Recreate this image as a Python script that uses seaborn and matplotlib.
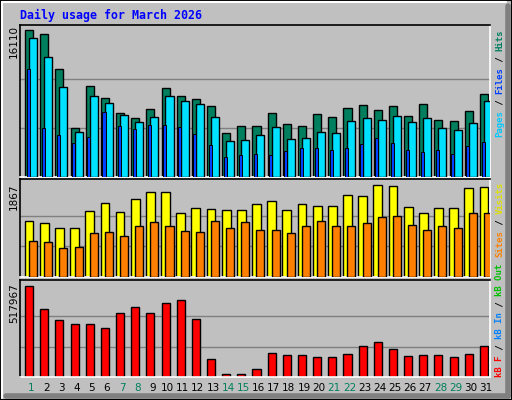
import numpy as np
import pandas as pd
import matplotlib
matplotlib.use("Agg")
import matplotlib.pyplot as plt
import seaborn as sns
from matplotlib.patches import Rectangle

days = list(range(1, 32))
hits = [16110,15640,11804,5338,9941,8626,6982,6433,7420,9722,8845,8516,7749,4790,5557,5557,
        6982,5776,5557,6872,6543,7530,7858,7310,7749,6653,7968,6214,6105,7201,9064]
files = [15202,13119,9831,4899,8845,8078,6762,5995,6543,8845,8297,7968,6543,3913,4022,4570,
         5447,4132,4242,4899,4790,6105,6433,6214,6653,5995,6433,5338,5118,5886,8297]
pages = [11804,5338,4570,3694,4351,7091,5557,5228,5666,5666,5447,4680,3474,2159,2378,2488,
         2378,2817,3146,3146,2926,3146,3584,4242,3694,2926,2707,2926,2488,3365,3803]
visits = [1134,1093,992,992,1338,1501,1317,1582,1725,1725,1297,1399,1378,1358,1358,1480,
          1541,1358,1480,1439,1439,1663,1643,1867,1847,1419,1297,1399,1399,1806,1826]
sites = [727,707,584,605,890,910,829,1032,1114,1032,930,910,1134,992,1114,951,
         951,890,1032,1134,1032,1032,1093,1215,1236,1053,951,1032,992,1297,1297]
kbytes = [517967,387050,324440,301670,301670,278900,364280,398430,364280,421200,438280,330130,
          102460,17080,17080,45540,136610,125220,125220,113840,113840,130910,176450,199220,
          159370,119530,125220,125220,113840,130910,176450]
weekend = {1,7,8,14,15,21,22,28,29}

W, H = 512, 400
BG = "#C0C0C0"
sns.set_style("white")
fig = plt.figure(figsize=(W/100, H/100), dpi=100)
fig.patch.set_facecolor(BG)
mono = "DejaVu Sans Mono"

def fx(x): return x / W
def fy(y): return 1 - y / H

fig.patches.append(Rectangle((0, 0), 1, 1, transform=fig.transFigure, fill=False, edgecolor="black", lw=1.5))
fig.add_artist(plt.Line2D([fx(2), fx(2)], [fy(398), fy(2)], color="white", lw=1.5, transform=fig.transFigure))
fig.add_artist(plt.Line2D([fx(2), fx(506)], [fy(2), fy(2)], color="white", lw=1.5, transform=fig.transFigure))
fig.add_artist(plt.Line2D([fx(508), fx(508)], [fy(6), fy(396)], color="#808080", lw=4, transform=fig.transFigure))
fig.add_artist(plt.Line2D([fx(6), fx(508)], [fy(396), fy(396)], color="#808080", lw=4, transform=fig.transFigure))

XL = (-0.73, 30.27)

def make_ax(top, bottom, vmax, barh):
    ax = fig.add_axes([fx(20), fy(bottom), fx(490) - fx(20), (bottom - top) / H])
    ax.set_facecolor(BG)
    ax.set_ylim(0, vmax * (bottom - top) / barh)
    for g in (vmax / 3, 2 * vmax / 3):
        ax.axhline(g, color="#808080", lw=1, zorder=0)
    for s in ("top", "left"):
        ax.spines[s].set_color("black")
    for s in ("right", "bottom"):
        ax.spines[s].set_color("white")
    for s in ax.spines.values():
        s.set_linewidth(1.2)
    return ax

def bars(ax, vals, off, w, color, lw=1.0, z=2):
    n0 = len(ax.patches)
    df = pd.DataFrame({"day": days, "y": vals})
    sns.barplot(data=df, x="day", y="y", order=days, width=w, color=color,
                edgecolor="black", linewidth=lw, saturation=1, ax=ax)
    for p in ax.patches[n0:]:
        p.set_x(p.get_x() + off)
        p.set_zorder(z)

def finish(ax):
    ax.set_xlim(*XL)
    ax.set_xticks([]); ax.set_yticks([])
    ax.set_xlabel(""); ax.set_ylabel("")

ax1 = make_ax(25, 177, max(hits), 147)
bars(ax1, hits, -0.13, 0.53, "#007F5F", z=2)
bars(ax1, files, 0.13, 0.53, "#00E0FF", z=3)
bars(ax1, pages, -0.19, 0.2, "#0040FF", 0.7, z=4)
finish(ax1)

ax2 = make_ax(179, 277, max(visits), 92)
bars(ax2, visits, -0.13, 0.58, "#FFFF00", z=2)
bars(ax2, sites, 0.13, 0.53, "#FF8000", z=3)
finish(ax2)

ax3 = make_ax(280, 377, max(kbytes), 91)
bars(ax3, kbytes, -0.13, 0.53, "#FF0000")
finish(ax3)

fig.text(fx(20), fy(15), "Daily usage for March 2026", color="#0000FF", family=mono,
         fontweight="bold", fontsize=8.4, va="center", ha="left")

for txt, ytop in (("16110", 25), ("1867", 184), ("517967", 283)):
    fig.text(fx(14), fy(ytop), txt, rotation=90, ha="center", va="top", fontsize=7.5, color="black")

for i, d in enumerate(days):
    x = 20 + (i - XL[0]) * (470 / 31)
    fig.text(fx(x), fy(388), str(d), ha="center", va="center", fontsize=7.5,
             color="#00805C" if d in weekend else "black")

CH = 5.4
def side(pieces, ybottom):
    y = ybottom
    for t, c in pieces:
        fig.text(fx(500), fy(y), t, rotation=90, ha="center", va="bottom", family=mono,
                 fontweight="bold", fontsize=6.5, color=c)
        y -= len(t) * CH

side([("Pages", "#00C8FF"), (" / ", "black"), ("Files", "#0040FF"), (" / ", "black"), ("Hits", "#007F5F")], 137)
side([("Sites", "#FF8000"), (" / ", "black"), ("Visits", "#E0E000")], 257)
side([("kB F", "#FF0000"), (" / ", "black"), ("kB In", "#0080FF"), (" / ", "black"), ("kB Out", "#00C000")], 377)

fig.savefig("out.png", dpi=100, facecolor=BG)
